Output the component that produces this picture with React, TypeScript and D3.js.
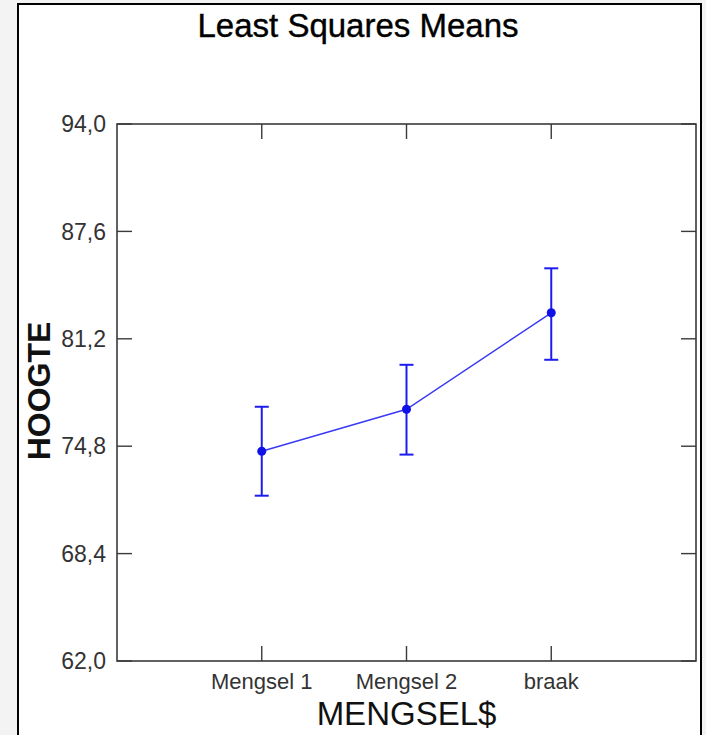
import { useEffect, useRef } from 'react';
import * as d3 from 'd3';

const categories = ['Mengsel 1', 'Mengsel 2', 'braak'];
const means = [74.5, 77.0, 82.75];
const upper = [77.15, 79.65, 85.4];
const lower = [71.85, 74.3, 79.95];
const yTicks = [62.0, 68.4, 74.8, 81.2, 87.6, 94.0];

export default function App() {
  const ref = useRef<SVGSVGElement>(null);

  useEffect(() => {
    if (!ref.current) return;
    const svg = d3.select(ref.current);
    svg.selectAll('*').remove();

    const W = 706;
    const H = 735;
    const left = 117;
    const right = 696;
    const top = 124;
    const bottom = 661;
    const font = 'Liberation Sans, Arial, sans-serif';
    const tickLen = 15;
    const blue = '#1c1cf0';

    // page background + outer frame
    svg.append('rect').attr('width', W).attr('height', H).attr('fill', '#f3f3f3');
    svg.append('rect')
      .attr('x', 18).attr('y', 4)
      .attr('width', 683).attr('height', H + 10)
      .attr('fill', '#fff')
      .attr('stroke', '#000')
      .attr('stroke-width', 2);

    const x = d3.scaleLinear().domain([0, categories.length + 1]).range([left, right]);
    const y = d3.scaleLinear().domain([62, 94]).range([bottom, top]);
    const fmt = (v: number) => v.toFixed(1).replace('.', ',');

    // title
    svg.append('text')
      .attr('x', 358).attr('y', 37)
      .attr('text-anchor', 'middle')
      .attr('font-family', font)
      .attr('font-size', 33)
      .attr('fill', '#000')
      .attr('stroke', '#000')
      .attr('stroke-width', 0.4)
      .text('Least Squares Means');

    // plot frame
    svg.append('rect')
      .attr('x', left).attr('y', top)
      .attr('width', right - left).attr('height', bottom - top)
      .attr('fill', 'none')
      .attr('stroke', '#3a3a3a')
      .attr('stroke-width', 1.6);

    const axisG = svg.append('g').attr('stroke', '#3a3a3a').attr('stroke-width', 1.4);

    // y ticks (left + right, inward)
    yTicks.forEach((t) => {
      axisG.append('line')
        .attr('x1', left).attr('x2', left + tickLen)
        .attr('y1', y(t)).attr('y2', y(t));
      axisG.append('line')
        .attr('x1', right - tickLen).attr('x2', right)
        .attr('y1', y(t)).attr('y2', y(t));
      svg.append('text')
        .attr('x', 106).attr('y', y(t))
        .attr('dy', '0.36em')
        .attr('text-anchor', 'end')
        .attr('font-family', font)
        .attr('font-size', 23)
        .attr('fill', '#333')
        .text(fmt(t));
    });

    // x ticks (top + bottom, inward)
    categories.forEach((c, i) => {
      const cx = x(i + 1);
      axisG.append('line')
        .attr('x1', cx).attr('x2', cx)
        .attr('y1', bottom).attr('y2', bottom - tickLen);
      axisG.append('line')
        .attr('x1', cx).attr('x2', cx)
        .attr('y1', top).attr('y2', top + tickLen);
      svg.append('text')
        .attr('x', cx).attr('y', 689)
        .attr('text-anchor', 'middle')
        .attr('font-family', font)
        .attr('font-size', 22)
        .attr('fill', '#333')
        .text(c);
    });

    // axis titles
    svg.append('text')
      .attr('x', (left + right) / 2).attr('y', 725)
      .attr('text-anchor', 'middle')
      .attr('font-family', font)
      .attr('font-size', 33)
      .attr('fill', '#111')
      .text('MENGSEL$');

    svg.append('text')
      .attr('transform', `translate(50,391) rotate(-90)`)
      .attr('text-anchor', 'middle')
      .attr('font-family', font)
      .attr('font-size', 32)
      .attr('font-weight', 'bold')
      .attr('fill', '#111')
      .text('HOOGTE');

    // error bars
    const eb = svg.append('g').attr('stroke', blue).attr('stroke-width', 2);
    categories.forEach((_, i) => {
      const cx = x(i + 1);
      eb.append('line')
        .attr('x1', cx).attr('x2', cx)
        .attr('y1', y(upper[i])).attr('y2', y(lower[i]));
      [upper[i], lower[i]].forEach((v) => {
        eb.append('line')
          .attr('x1', cx - 7).attr('x2', cx + 7)
          .attr('y1', y(v)).attr('y2', y(v));
      });
    });

    // mean line
    const line = d3.line<number>()
      .x((_, i) => x(i + 1))
      .y((d) => y(d));
    svg.append('path')
      .attr('d', line(means) ?? '')
      .attr('fill', 'none')
      .attr('stroke', '#3b3bf5')
      .attr('stroke-width', 1.5);

    // markers
    means.forEach((m, i) => {
      svg.append('circle')
        .attr('cx', x(i + 1)).attr('cy', y(m))
        .attr('r', 4.5)
        .attr('fill', '#1010e8');
    });

    svg.attr('width', W).attr('height', H).attr('viewBox', `0 0 ${W} ${H}`);
  }, []);

  return <svg ref={ref} style={{ position: 'absolute', left: 0, top: 0, display: 'block' }} />;
}
